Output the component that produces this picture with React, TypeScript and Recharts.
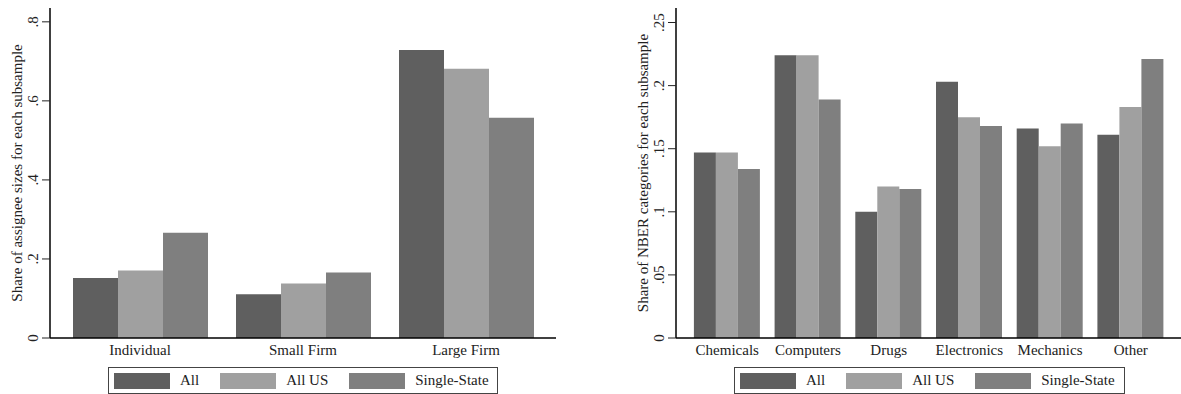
import { BarChart, Bar, XAxis, YAxis } from "recharts";

const sizeCats = ["Individual", "Small Firm", "Large Firm"];
const sizeAll = [0.152, 0.111, 0.729];
const sizeAllUS = [0.171, 0.138, 0.681];
const sizeSingle = [0.266, 0.166, 0.557];
const sizeTicks = [0, 0.2, 0.4, 0.6, 0.8];

const nberCats = ["Chemicals", "Computers", "Drugs", "Electronics", "Mechanics", "Other"];
const nberAll = [0.147, 0.224, 0.1, 0.203, 0.166, 0.161];
const nberAllUS = [0.147, 0.224, 0.12, 0.175, 0.152, 0.183];
const nberSingle = [0.134, 0.189, 0.118, 0.168, 0.17, 0.221];
const nberTicks = [0, 0.05, 0.1, 0.15, 0.2, 0.25];

const seriesNames = ["All", "All US", "Single-State"];
const seriesKeys = ["all", "allUS", "single"];
const seriesColors = ["#5f5f5f", "#a0a0a0", "#7f7f7f"];

const FONT = "Liberation Serif, serif";

const fmt = (v: number) => (v === 0 ? "0" : String(v).replace(/^0/, ""));

const YTick = ({ x, y, payload }: any) => (
  <text
    x={x}
    y={y}
    transform={`rotate(-90 ${x} ${y})`}
    textAnchor="middle"
    fontSize={15}
    fill="#222"
    fontFamily={FONT}
  >
    {fmt(payload.value)}
  </text>
);

const Legend = ({ left, width }: { left: number; width: number }) => (
  <div
    style={{
      position: "absolute",
      left,
      top: 367,
      width,
      height: 27,
      border: "1px solid #444",
      boxSizing: "border-box",
      display: "flex",
      alignItems: "center",
      paddingLeft: 5,
      fontFamily: FONT,
      fontSize: 15,
      color: "#222",
      background: "#fff",
      whiteSpace: "nowrap",
    }}
  >
    {seriesNames.map((n, i) => (
      <div key={n} style={{ display: "flex", alignItems: "center", marginRight: 21, flexShrink: 0 }}>
        <div style={{ width: 56, height: 16, background: seriesColors[i], marginRight: 10, flexShrink: 0 }} />
        <span>{n}</span>
      </div>
    ))}
  </div>
);

type PanelProps = {
  cats: string[];
  vals: number[][];
  ticks: number[];
  max: number;
  title: string;
  width: number;
  axisW: number;
  rightM: number;
  pad: number;
  gap: number;
};

const Panel = ({ cats, vals, ticks, max, title, width, axisW, rightM, pad, gap }: PanelProps) => {
  const data = cats.map((c, i) => ({
    name: c,
    all: vals[0][i],
    allUS: vals[1][i],
    single: vals[2][i],
  }));
  return (
    <BarChart
      width={width}
      height={394}
      data={data}
      margin={{ top: 8, right: rightM, bottom: 0, left: 0 }}
      barGap={0}
      barCategoryGap={gap}
      style={{ fontFamily: FONT }}
    >
      <XAxis
        dataKey="name"
        height={56}
        padding={{ left: pad, right: pad }}
        tickLine={false}
        tickSize={0}
        tickMargin={6}
        axisLine={{ stroke: "#000", strokeWidth: 1.5 }}
        tick={{ fill: "#222", fontSize: 15, fontFamily: FONT }}
        interval={0}
      />
      <XAxis
        xAxisId="top"
        dataKey="name"
        orientation="top"
        height={0}
        tick={false}
        tickLine={false}
        axisLine={{ stroke: "#888", strokeWidth: 1.5 }}
      />
      <YAxis
        type="number"
        domain={[0, max]}
        ticks={ticks}
        width={axisW}
        tickSize={8}
        tickMargin={4}
        tickLine={{ stroke: "#222" }}
        axisLine={{ stroke: "#000", strokeWidth: 1.5 }}
        tick={<YTick />}
        label={{
          content: ({ viewBox }: any) => {
            const cx = viewBox.x + viewBox.width - 28;
            const cy = viewBox.y + viewBox.height / 2;
            return (
              <text
                x={cx}
                y={cy}
                transform={`rotate(-90 ${cx} ${cy})`}
                textAnchor="middle"
                fontSize={15}
                fill="#222"
                fontFamily={FONT}
              >
                {title}
              </text>
            );
          },
        }}
      />
      <YAxis
        yAxisId="right"
        orientation="right"
        type="number"
        domain={[0, max]}
        width={0}
        tick={false}
        tickLine={false}
        axisLine={{ stroke: "#000", strokeWidth: 1.5 }}
      />
      {seriesKeys.map((k, i) => (
        <Bar key={k} dataKey={k} name={seriesNames[i]} fill={seriesColors[i]} isAnimationActive={false} />
      ))}
    </BarChart>
  );
};

export default function App() {
  return (
    <div
      style={{
        position: "absolute",
        left: 0,
        top: 0,
        width: 1181,
        height: 394,
        overflow: "hidden",
        background: "#fff",
      }}
    >
      <div style={{ position: "absolute", left: 0, top: 0 }}>
        <Panel
          cats={sizeCats}
          vals={[sizeAll, sizeAllUS, sizeSingle]}
          ticks={sizeTicks}
          max={0.835}
          title="Share of assignee sizes for each subsample"
          width={590}
          axisW={50}
          rightM={34}
          pad={8.5}
          gap={14.5}
        />
      </div>
      <Legend left={108} width={390} />
      <div style={{ position: "absolute", left: 590, top: 0 }}>
        <Panel
          cats={nberCats}
          vals={[nberAll, nberAllUS, nberSingle]}
          ticks={nberTicks}
          max={0.2615}
          title="Share of NBER categories for each subsample"
          width={600}
          axisW={86}
          rightM={8}
          pad={10.9}
          gap={7}
        />
      </div>
      <Legend left={734} width={391} />
    </div>
  );
}
